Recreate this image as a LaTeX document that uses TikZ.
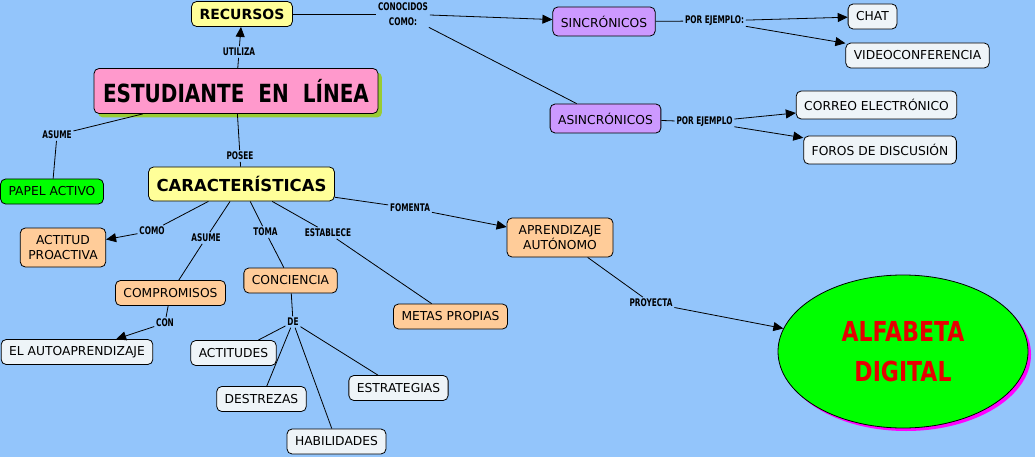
\documentclass[tikz,border=0pt]{standalone}
\usepackage{fontspec}
\setmainfont{DejaVu Sans}
\newfontfamily\linkfont[FakeStretch=0.7]{DejaVu Sans}
\newfontfamily\titlefont[FakeStretch=0.8]{DejaVu Sans}
\usetikzlibrary{shapes,arrows.meta,positioning,shadows}
\definecolor{fondo}{RGB}{147,197,251}
\definecolor{amarillo}{RGB}{255,255,153}
\definecolor{naranja}{RGB}{255,204,153}
\definecolor{lila}{RGB}{204,153,255}
\definecolor{blanco}{RGB}{238,244,248}
\definecolor{rosa}{RGB}{255,153,204}
\definecolor{oliva}{RGB}{153,204,51}
\definecolor{verde}{RGB}{0,255,0}
\definecolor{rojo}{RGB}{230,0,0}
\definecolor{fucsia}{RGB}{255,0,255}
\begin{document}
\begin{tikzpicture}[
      x=1pt,y=-1pt,thick,
      concept/.style = {rectangle,rounded corners=5pt,align=center,inner xsep=8pt,inner ysep=2pt,minimum height=25pt,font=\fontsize{12.3}{15}\selectfont},
      main/.style = {concept,fill=rosa,minimum height=45pt,inner xsep=9pt,font=\titlefont\bfseries\fontsize{25}{30}\selectfont,
        drop shadow={shadow xshift=4pt,shadow yshift=-4pt,fill=oliva,opacity=1}},
      hub/.style = {concept,fill=amarillo,font=\bfseries\fontsize{14}{17}\selectfont},
      trait/.style = {concept,fill=naranja},
      leaf/.style = {concept,fill=blanco},
      kind/.style = {concept,fill=lila,minimum height=29pt},
      goal/.style = {ellipse,fill=verde,minimum width=250pt,minimum height=153pt,inner sep=0pt,text=rojo,align=center,
        font=\titlefont\bfseries\fontsize{27.5}{40}\selectfont,
        drop shadow={shadow xshift=3pt,shadow yshift=-3pt,fill=fucsia,opacity=1}},
      link/.style = {inner sep=1.5pt,align=center,font=\linkfont\bfseries\fontsize{10.5}{15}\selectfont},
      arrow/.style = {->,>={Triangle[length=10pt,width=9pt]}}
    ]
      \useasboundingbox (0,0) rectangle (1035,457);
      \fill[fondo] (0,0) rectangle (1035,457);
      % conceptos
      \node (estudiante)[draw,main] at (236,91) {ESTUDIANTE\hspace{14pt}EN\hspace{14pt}LÍNEA};
      \node (recursos)[draw,hub] at (242,14) {RECURSOS};
      \node (caracteristicas)[draw,hub,minimum height=34pt,font=\bfseries\fontsize{16.5}{20}\selectfont] at (241.5,184) {CARACTERÍSTICAS};
      \node (papel)[draw,concept,fill=verde] at (52,191.5) {PAPEL ACTIVO};
      \node (sincronicos)[draw,kind] at (604,21.5) {SINCRÓNICOS};
      \node (asincronicos)[draw,kind] at (605.5,118.5) {ASINCRÓNICOS};
      \node (chat)[draw,leaf] at (872.5,16.5) {CHAT};
      \node (video)[draw,leaf] at (917.5,55.5) {VIDEOCONFERENCIA};
      \node (correo)[draw,leaf,minimum height=28pt] at (876.5,105) {CORREO ELECTRÓNICO};
      \node (foros)[draw,leaf,minimum height=28pt] at (880,150) {FOROS DE DISCUSIÓN};
      \node (actitud)[draw,trait,minimum height=39pt] at (63,247.5) {ACTITUD\\PROACTIVA};
      \node (compromisos)[draw,trait] at (170.5,293) {COMPROMISOS};
      \node (conciencia)[draw,trait] at (290.5,280.5) {CONCIENCIA};
      \node (metas)[draw,trait] at (450.5,316.5) {METAS PROPIAS};
      \node (aprendizaje)[draw,trait,minimum height=39pt,minimum width=106pt] at (560,237.5) {APRENDIZAJE\\AUTÓNOMO};
      \node (autoaprendizaje)[draw,leaf] at (77,352) {EL AUTOAPRENDIZAJE};
      \node (actitudes)[draw,leaf] at (233.5,353) {ACTITUDES};
      \node (destrezas)[draw,leaf] at (261.5,399) {DESTREZAS};
      \node (habilidades)[draw,leaf] at (336.5,441.5) {HABILIDADES};
      \node (estrategias)[draw,leaf] at (398.5,388) {ESTRATEGIAS};
      \node (alfabeta)[draw,goal] at (903,351.5) {ALFABETA\\DIGITAL};
      % frases de enlace
      \node (utiliza)[link] at (239,52) {UTILIZA};
      \node (conocidos)[link] at (403,14) {CONOCIDOS\\COMO:};
      \node (porej1)[link] at (714.5,21) {POR EJEMPLO:};
      \node (porej2)[link] at (704.5,122) {POR EJEMPLO};
      \node (asume1)[link] at (57,135) {ASUME};
      \node (posee)[link] at (240,156) {POSEE};
      \node (como)[link] at (152,231) {COMO};
      \node (asume2)[link] at (206,238) {ASUME};
      \node (toma)[link] at (265.5,232) {TOMA};
      \node (establece)[link] at (328,233) {ESTABLECE};
      \node (fomenta)[link] at (410,208) {FOMENTA};
      \node (con)[link] at (165,323) {CON};
      \node (de)[link] at (293,322) {DE};
      \node (proyecta)[link] at (651,303) {PROYECTA};
      % conexiones
      \draw (estudiante) -- (utiliza);
      \draw [arrow] (utiliza) -- (recursos);
      \draw (recursos) -- (conocidos);
      \draw [arrow] (conocidos) -- (sincronicos);
      \draw (conocidos) -- (asincronicos);
      \draw (sincronicos) -- (porej1);
      \draw [arrow] (porej1) -- (chat);
      \draw [arrow] (porej1) -- (video);
      \draw (asincronicos) -- (porej2);
      \draw [arrow] (porej2) -- (correo);
      \draw [arrow] (porej2) -- (foros);
      \draw (estudiante) -- (asume1);
      \draw (asume1) -- (papel);
      \draw (estudiante) -- (posee);
      \draw (posee) -- (caracteristicas);
      \draw (caracteristicas) -- (como);
      \draw [arrow] (como) -- (actitud);
      \draw (caracteristicas) -- (asume2);
      \draw (asume2) -- (compromisos);
      \draw (caracteristicas) -- (toma);
      \draw (toma) -- (conciencia);
      \draw (caracteristicas) -- (establece);
      \draw (establece) -- (metas);
      \draw (caracteristicas) -- (fomenta);
      \draw [arrow] (fomenta) -- (aprendizaje);
      \draw (compromisos) -- (con);
      \draw [arrow] (con) -- (autoaprendizaje);
      \draw (conciencia) -- (de);
      \draw (de) -- (actitudes);
      \draw (de) -- (destrezas);
      \draw (de) -- (habilidades);
      \draw (de) -- (estrategias);
      \draw (aprendizaje) -- (proyecta);
      \draw [arrow] (proyecta) -- (alfabeta);
    \end{tikzpicture}
\end{document}
